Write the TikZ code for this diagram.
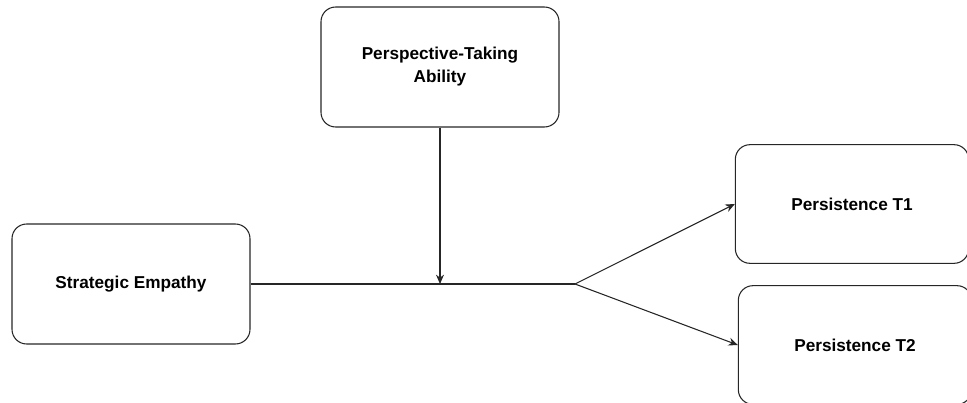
\documentclass[tikz,border=0pt]{standalone}
\usepackage{fontspec}
\setmainfont{Liberation Sans}
\usetikzlibrary{arrows.meta}
\begin{document}
\begin{tikzpicture}[x=0.75pt,y=-0.75pt,
  box/.style={draw=black!85,line width=0.8pt,rounded corners=11pt,inner sep=0pt,
    font=\fontsize{12.9}{17.3}\selectfont\bfseries,align=center},
  conn/.style={draw=black!85,line width=0.8pt},
  arr/.style={conn,-{Stealth[length=7pt,width=6pt]}}]
\clip (0,0) rectangle (967,403);
\node[box,minimum width=178.5pt,minimum height=90pt] (pta) at (440,67) {Perspective-Taking\\Ability};
\node[box,minimum width=178.5pt,minimum height=90pt] (se) at (131,284) {Strategic Empathy};
\node[box,minimum width=175pt,minimum height=89pt] (t1) at (852,204) {Persistence T1};
\node[box,minimum width=175pt,minimum height=89pt] (t2) at (855,345) {Persistence T2};
\coordinate (mid) at (440,284);
\coordinate (jn) at (575,284);
\draw[conn] (se.east) -- (jn);
\draw[arr] (pta.south) -- (mid);
\draw[arr] (jn) -- (t1.west);
\draw[arr] (jn) -- (t2.west);
\end{tikzpicture}
\end{document}
